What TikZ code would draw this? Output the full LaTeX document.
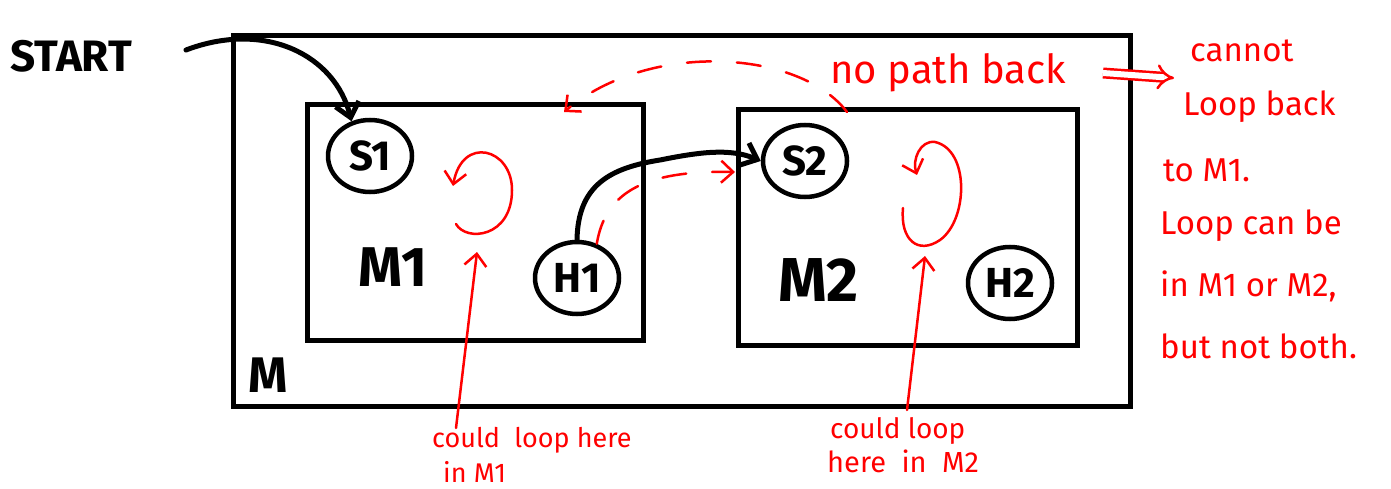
\documentclass[tikz,border=0pt]{standalone}
\usepackage{fontspec}
\setmainfont{Fira Sans}
\usetikzlibrary{shapes.geometric,arrows.meta}
\begin{document}
\begin{tikzpicture}[x=1pt,y=-1pt,
 blk/.style={line width=5pt, line cap=round, line join=round},
 boxnode/.style={draw, line width=5pt, inner sep=0pt},
 state/.style={draw, ellipse, line width=4.5pt, minimum width=84pt, minimum height=72pt, inner sep=0pt, font=\fontsize{42}{46}\selectfont\bfseries},
 biglbl/.style={anchor=base west, inner sep=0pt, font=\bfseries\fontsize{56}{60}\selectfont},
 note/.style={anchor=base west, inner sep=0pt, text=red, font=\fontsize{27}{30}\selectfont},
 sidenote/.style={anchor=base west, inner sep=0pt, text=red, font=\fontsize{33}{36}\selectfont},
 rl/.style={draw=red, line width=2.5pt, line cap=round, line join=round},
 bk/.style={-{Straight Barb[length=14pt,width=24pt,line width=5pt]}},
 rk/.style={-{Straight Barb[length=12pt,width=22pt,line width=2.5pt]}},
 rdash/.style={dash pattern=on 24pt off 26pt}
]
\useasboundingbox (0,0) rectangle (1391,489);

% boxes
\node[boxnode, minimum width=897pt, minimum height=371pt] (M) at (682,221) {};
\node[boxnode, minimum width=336pt, minimum height=235pt] (M1) at (475,222.5) {};
\node[boxnode, minimum width=339pt, minimum height=236pt] (M2) at (907.5,227.5) {};

% states
\node[state] (S1) at (370,156) {S1};
\node[state] (H1) at (577,278) {H1};
\node[state] (S2) at (805,161) {S2};
\node[state] (H2) at (1010,283) {H2};

% labels
\node[anchor=base west, inner sep=0pt, font=\bfseries\fontsize{44}{48}\selectfont] (start) at (10,72) {START};
\node[biglbl] (m1lbl) at (358,286) {M1};
\node[biglbl, font=\bfseries\fontsize{62}{66}\selectfont] (m2lbl) at (778,301) {M2};
\node[biglbl, font=\bfseries\fontsize{50}{54}\selectfont] (mlbl) at (248,392) {M};

% black connectors
\coordinate (st) at (186,50);
\draw[blk, bk] (st) .. controls (265,20) and (335,55) .. (S1.118);
\draw[blk, bk] (H1.north) .. controls (578,185) and (610,168) .. (660,160)
  .. controls (700,152) and (730,148) .. (S2.west);

% red dashed H1 -> M2
\coordinate (rd) at (735,172);
\draw[rl, rdash, rk] (H1.60) .. controls (605,195) and (640,170) .. (rd);

% red dashed no path back
\coordinate (np1) at (847,112);
\coordinate (np2) at (564,112);
\draw[rl, rdash, rk] (np1) .. controls (800,50) and (650,40) .. (np2);

% loops
\coordinate (l1s) at (456,224);
\coordinate (l1e) at (453,186);
\draw[rl, rk] (l1s) .. controls (466,242) and (512,238) .. (512,190)
  .. controls (512,148) and (462,135) .. (l1e);
\coordinate (l2s) at (903,208);
\coordinate (l2e) at (917,175);
\draw[rl, rk] (l2s) .. controls (900,240) and (918,255) .. (940,240)
  .. controls (968,220) and (970,150) .. (935,142)
  .. controls (920,140) and (912,160) .. (l2e);

% notes
\node[note] (n1a) at (432,447) {could \ loop here};
\node[note] (n1b) at (443,482) {in M1};
\node[note, font=\fontsize{28}{30}\selectfont] (n2a) at (830,438) {could loop};
\node[note, font=\fontsize{29}{32}\selectfont] (n2b) at (827,472) {here \ in \ M2};
\coordinate (a1) at (456,428);
\coordinate (a1t) at (477,252);
\draw[rl, rk] (a1) -- (a1t);
\coordinate (a2) at (907,410);
\coordinate (a2t) at (925,256);
\draw[rl, rk] (a2) -- (a2t);

\node[note, font=\fontsize{40}{44}\selectfont] (npb) at (830,84) {no path back};
\coordinate (dd1) at (1103,73);
\coordinate (dd2) at (1174,78);
\draw[draw=red, line width=2.5pt, double distance=6pt, -{Implies}] (dd1) -- (dd2);

\node[sidenote] (r1) at (1190,62) {cannot};
\node[sidenote] (r2) at (1183,116) {Loop back};
\node[sidenote] (r3) at (1163,182) {to M1.};
\node[sidenote] (r4) at (1160,234) {Loop can be};
\node[sidenote] (r5) at (1160,296) {in M1 or M2,};
\node[sidenote] (r6) at (1160,358) {but not both.};
\end{tikzpicture}
\end{document}
